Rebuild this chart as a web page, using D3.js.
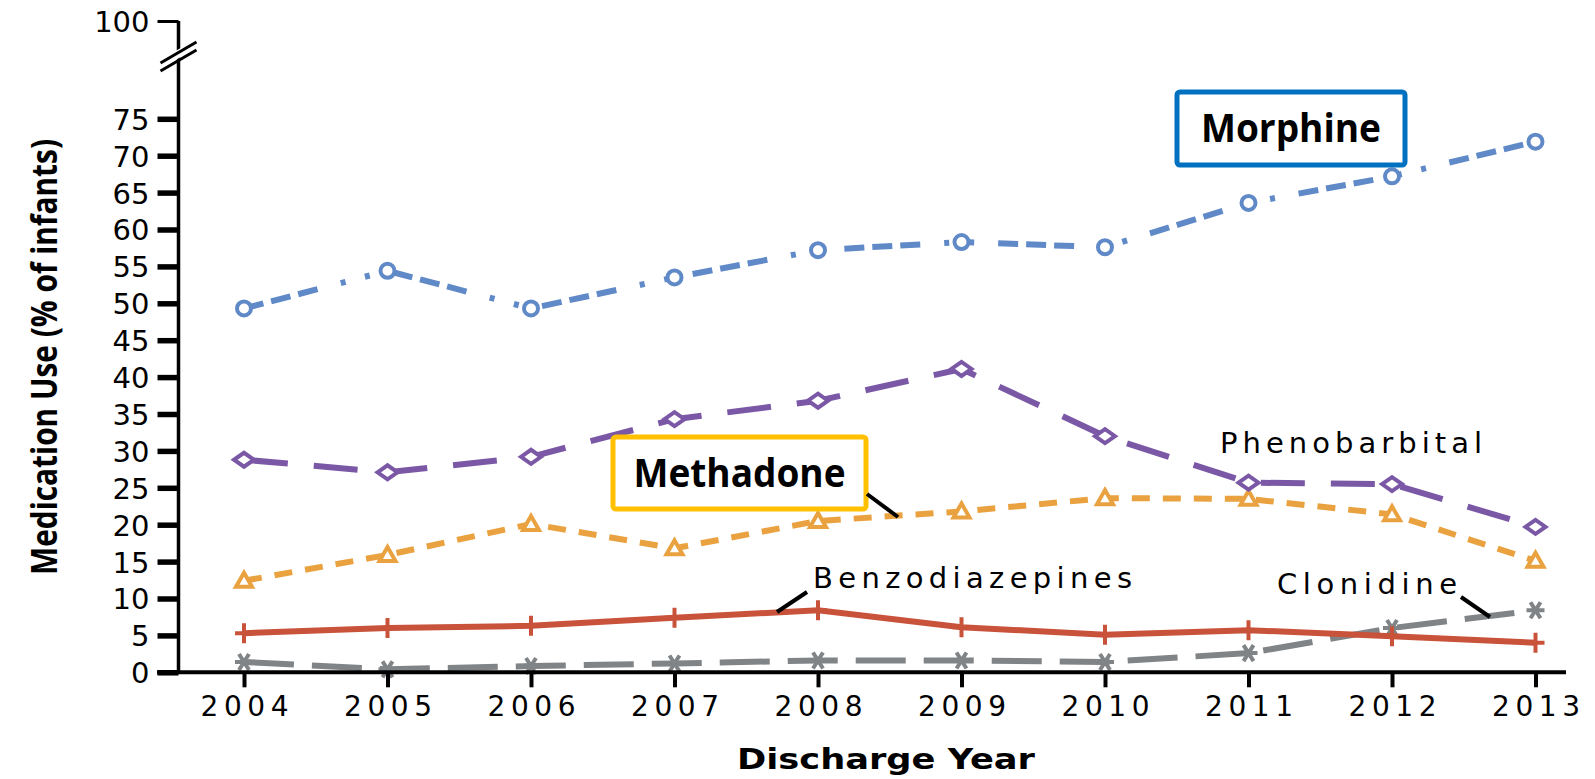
<!DOCTYPE html>
<html>
<head>
<meta charset="utf-8">
<script src="https://cdn.jsdelivr.net/npm/d3@7"></script>
<style>
    body { margin: 0; background: #fff; }
    svg { display: block; }
    .lbl { font-family: 'DejaVu Sans', sans-serif; font-size: 29px; fill: #000; }
    .box { font-family: 'Open Sans', 'Noto Sans', sans-serif; font-weight: bold; font-size: 39px; fill: #000; }
</style>
</head>
<body>
<svg id="chart"></svg>
<script>
var years = [2004, 2005, 2006, 2007, 2008, 2009, 2010, 2011, 2012, 2013];
var yTicks = [0, 5, 10, 15, 20, 25, 30, 35, 40, 45, 50, 55, 60, 65, 70, 75, 100];

var morphine = [49.3, 54.4, 49.3, 53.5, 57.2, 58.3, 57.6, 63.6, 67.2, 71.9];
var phenobarbital = [28.8, 27.1, 29.2, 34.3, 36.8, 41.1, 32.0, 25.7, 25.5, 19.7];
var methadone = [12.4, 15.9, 20.1, 16.8, 20.5, 21.8, 23.6, 23.5, 21.4, 15.1];
var benzodiazepines = [5.3, 6.0, 6.3, 7.4, 8.4, 6.1, 5.1, 5.7, 4.9, 4.0];
var clonidine = [1.4, 0.4, 0.85, 1.2, 1.6, 1.6, 1.4, 2.6, 6.0, 8.4];

var seriesNames = ['Clonidine', 'Benzodiazepines', 'Methadone', 'Phenobarbital', 'Morphine'];
var seriesValues = [clonidine, benzodiazepines, methadone, phenobarbital, morphine];
var seriesColors = ['#808487', '#C9523B', '#E9A23F', '#7B58A6', '#6089C7'];
var seriesDash = ['50,18', null, '18,13', '44,26', '20,8,20,8,20,24,5,20,5,24'];
var seriesMarker = ['asterisk', 'plus', 'triangle', 'diamond', 'circle'];

var W = 1595, H = 779;

var svg = d3.select('svg#chart')
    .attr('width', W)
    .attr('height', H) ;

// broken axis: 0-75 linear, then jump to 100
var x = d3.scaleLinear().domain([2004, 2013]).range([244, 1535.5]);
var y = d3.scaleLinear().domain([0, 75, 100]).range([672.3, 118.8, 21]);

var markerPath = function (kind) {
    if (kind === 'circle') return 'M-7,0a7,7 0 1,0 14,0a7,7 0 1,0 -14,0Z';
    if (kind === 'diamond') return 'M-10,0L0,-7L10,0L0,7Z';
    if (kind === 'triangle') return 'M-8,6L0,-8L8,6Z';
    if (kind === 'plus') return 'M-9,0H9M0,-10V10';
    return 'M-9,0H9M-5,-8L5,8M-5,8L5,-8';
};

// lines
var line = d3.line()
    .x(function (d, i) { return x(years[i]); })
    .y(function (d) { return y(d); }) ;

var series = svg.selectAll('g.series')
    .data(seriesValues)
    .enter().append('g')
    .classed('series', true) ;

series.append('path')
    .attr('d', line)
    .attr('fill', 'none')
    .attr('stroke', function (d, i) { return seriesColors[i]; })
    .attr('stroke-width', 6)
    .attr('stroke-dasharray', function (d, i) { return seriesDash[i]; }) ;

series.each(function (vals, si) {
    d3.select(this).selectAll('path.mk')
        .data(vals)
        .enter().append('path')
        .classed('mk', true)
        .attr('transform', function (d, i) { return 'translate(' + x(years[i]) + ',' + y(d) + ')'; })
        .attr('d', markerPath(seriesMarker[si]))
        .attr('fill', (seriesMarker[si] === 'plus' || seriesMarker[si] === 'asterisk') ? 'none' : '#fff')
        .attr('stroke', seriesColors[si])
        .attr('stroke-width', 4) ;
});

// axes
var yAxis = svg.append('g')
    .attr('transform', 'translate(178.5,0)')
    .call(d3.axisLeft(y).tickValues(yTicks).tickSize(21).tickPadding(8).tickSizeOuter(0)) ;
yAxis.attr('font-family', 'DejaVu Sans').attr('font-size', 29) ;
yAxis.select('.domain').attr('stroke', '#000').attr('stroke-width', 3.5)
    .attr('d', 'M0,21V' + y(0)) ;
yAxis.selectAll('.tick line').attr('stroke', '#000')
    .attr('stroke-width', function (d) { return d === 100 ? 3 : 5.5; }) ;
yAxis.selectAll('.tick text')
    .attr('fill', '#000')
    .attr('dy', '0.36em') ;

// break marks on the y axis
var brk = yAxis.append('g') ;
brk.append('rect')
    .attr('x', -6).attr('y', 50).attr('width', 12).attr('height', 8)
    .attr('fill', '#fff')
    .attr('transform', 'rotate(-30,0,55)') ;
brk.selectAll('line.brk')
    .data([0, 8])
    .enter().append('line')
    .attr('x1', -18).attr('x2', 18)
    .attr('y1', function (d) { return 63 + d; })
    .attr('y2', function (d) { return 42 + d; })
    .attr('stroke', '#000')
    .attr('stroke-width', 3) ;

var xAxis = svg.append('g')
    .attr('transform', 'translate(0,' + y(0) + ')')
    .call(d3.axisBottom(x).tickValues(years).tickFormat(d3.format('d')).tickSize(15).tickPadding(9).tickSizeOuter(0)) ;
xAxis.attr('font-family', 'DejaVu Sans').attr('font-size', 28) ;
xAxis.select('.domain').attr('stroke', '#000').attr('stroke-width', 4)
    .attr('d', 'M157,0H1566') ;
xAxis.selectAll('.tick line').attr('stroke', '#000').attr('stroke-width', 4) ;
xAxis.selectAll('.tick text')
    .attr('fill', '#000')
    .attr('textLength', 88)
    .attr('lengthAdjust', 'spacing') ;

// axis titles
svg.append('text')
    .attr('transform', 'translate(57,357) rotate(-90)')
    .attr('text-anchor', 'middle')
    .attr('textLength', 436)
    .attr('lengthAdjust', 'spacingAndGlyphs')
    .style('font-family', "'Liberation Sans Narrow', 'Open Sans', sans-serif")
    .style('font-weight', 'bold')
    .style('font-size', '36px')
    .text('Medication Use (% of infants)') ;

svg.append('text')
    .attr('x', 886).attr('y', 769)
    .attr('text-anchor', 'middle')
    .attr('textLength', 298)
    .attr('lengthAdjust', 'spacingAndGlyphs')
    .attr('class', 'lbl')
    .style('font-weight', 'bold')
    .style('font-size', '29px')
    .text('Discharge Year') ;

// boxed labels
var boxes = [
    { name: 'Morphine', x0: 1177, y0: 92, w: 228, h: 73, color: '#0070C0', tw: 180 },
    { name: 'Methadone', x0: 613, y0: 437, w: 253, h: 72, color: '#FFC000', tw: 212 }
];
var bx = svg.selectAll('g.boxlbl')
    .data(boxes)
    .enter().append('g')
    .classed('boxlbl', true) ;
bx.append('rect')
    .attr('x', function (d) { return d.x0; })
    .attr('y', function (d) { return d.y0; })
    .attr('width', function (d) { return d.w; })
    .attr('height', function (d) { return d.h; })
    .attr('rx', 3)
    .attr('fill', '#fff')
    .attr('stroke', function (d) { return d.color; })
    .attr('stroke-width', 5) ;
bx.append('text')
    .attr('class', 'box')
    .attr('x', function (d) { return d.x0 + d.w / 2; })
    .attr('y', function (d) { return d.y0 + 50; })
    .attr('text-anchor', 'middle')
    .attr('textLength', function (d) { return d.tw; })
    .attr('lengthAdjust', 'spacingAndGlyphs')
    .text(function (d) { return d.name; }) ;

// plain labels with pointers
var labels = [
    { name: 'Phenobarbital', x0: 1220, y0: 453, tw: 262, p: null },
    { name: 'Benzodiazepines', x0: 813, y0: 588, tw: 319, p: [777, 612, 807, 592] },
    { name: 'Clonidine', x0: 1277, y0: 594, tw: 180, p: [1461, 597, 1490, 617] },
    { name: '', x0: 0, y0: 0, tw: 0, p: [867, 494, 898, 517] }
];
var lb = svg.selectAll('g.lbl')
    .data(labels)
    .enter().append('g') ;
lb.filter(function (d) { return d.name; }).append('text')
    .attr('class', 'lbl')
    .attr('x', function (d) { return d.x0; })
    .attr('y', function (d) { return d.y0; })
    .attr('textLength', function (d) { return d.tw; })
    .attr('lengthAdjust', 'spacing')
    .text(function (d) { return d.name; }) ;
lb.filter(function (d) { return d.p; }).append('line')
    .attr('x1', function (d) { return d.p[0]; })
    .attr('y1', function (d) { return d.p[1]; })
    .attr('x2', function (d) { return d.p[2]; })
    .attr('y2', function (d) { return d.p[3]; })
    .attr('stroke', '#000')
    .attr('stroke-width', 4) ;
</script>
</body>
</html>
